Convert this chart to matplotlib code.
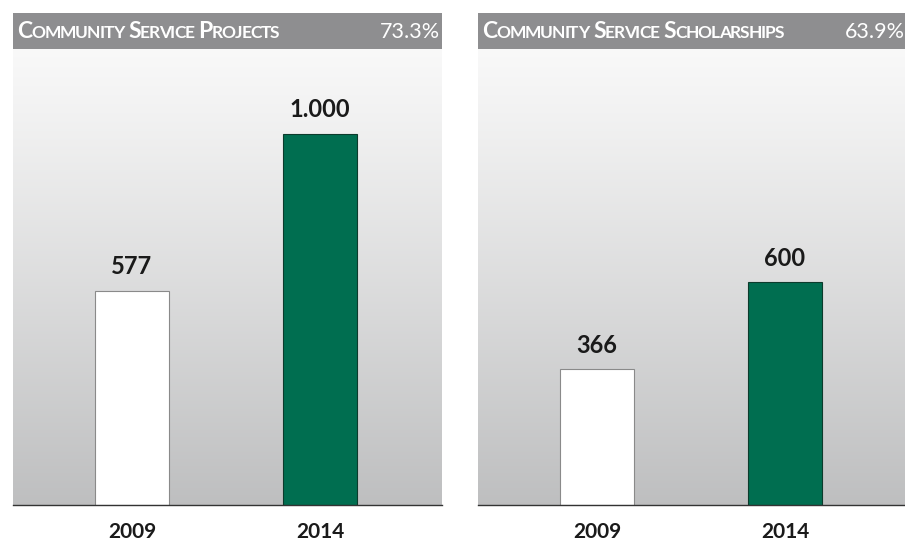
import numpy as np
import matplotlib.pyplot as plt
from matplotlib.patches import Rectangle

plt.rcParams['font.family'] = ['Lato', 'DejaVu Sans']

years = ['2009', '2014']
titles = ['Community Service Projects', 'Community Service Scholarships']
growth = ['73.3%', '63.9%']
projects = [577, 1000]
scholarships = [366, 600]
value_labels = [['577', '1.000'], ['366', '600']]

bar_colors = ['#ffffff', '#006e50']
edge_colors = ['#8a8a8a', '#0c3b2c']
header_color = '#8e8e90'

W, H = 905, 543
fig = plt.figure(figsize=(W / 100, H / 100), dpi=100)

# panel placement in pixels: left edge, width, plot bottom, plot top, header top
panel_x = [13, 478]
panel_w = 429
plot_bottom, plot_top, header_top = 505, 49, 13

# vertical gradient for the plot background
grad = np.linspace(0, 1, 256).reshape(-1, 1)
top_rgb = np.array([0.975, 0.975, 0.975])
bot_rgb = np.array([0.745, 0.748, 0.752])
grad_img = top_rgb + (bot_rgb - top_rgb) * grad[:, :, None] ** 1.1
grad_img = grad_img.reshape(256, 1, 3)


def small_caps(fig, x, y, text, big=16.5, small=12.5, color='white'):
    """Draw text in faux small caps, starting at figure pixel x, baseline y."""
    r = fig.canvas.get_renderer()
    cur = x
    for wi, word in enumerate(text.split(' ')):
        if wi:
            cur += 5
        for ci, ch in enumerate(word):
            size = big if ci == 0 else small
            t = fig.text(cur / W, 1 - y / H, ch.upper(), fontsize=size,
                         color=color, fontweight='bold', va='baseline',
                         ha='left')
            bb = t.get_window_extent(renderer=r)
            cur += bb.width - 1.0


for i, vals in enumerate([projects, scholarships]):
    left = panel_x[i] / W
    bottom = 1 - plot_bottom / H
    ax = fig.add_axes([left, bottom, panel_w / W, (plot_bottom - plot_top) / H])
    ax.imshow(grad_img, extent=[0, 1, 0, 1], transform=ax.transAxes,
              aspect='auto', zorder=0)

    x = np.arange(len(years))
    ax.bar(x, vals, width=0.394, color=bar_colors, edgecolor=edge_colors,
           linewidth=0.8, zorder=2)
    for xi, v, lab in zip(x, vals, value_labels[i]):
        ax.annotate(lab, (xi, v), xytext=(0, 9), textcoords='offset points',
                    ha='center', va='bottom', fontsize=17, fontweight='bold',
                    color='#1a1a1a')

    ax.set_xlim(-0.633, 1.649)
    ax.set_ylim(0, 1229)
    ax.set_xticks(x)
    ax.set_xticklabels(years, fontsize=15, fontweight='bold', color='#1a1a1a')
    ax.tick_params(axis='x', length=0, pad=12)
    ax.set_yticks([])
    for s in ['top', 'left', 'right']:
        ax.spines[s].set_visible(False)
    ax.spines['bottom'].set_color('#333333')
    ax.spines['bottom'].set_linewidth(1.0)
    ax.spines['bottom'].set_zorder(3)

    # header band
    fig.patches.append(Rectangle((left, 1 - plot_top / H), panel_w / W,
                                 (plot_top - header_top) / H,
                                 transform=fig.transFigure,
                                 facecolor=header_color, edgecolor='none'))
    small_caps(fig, panel_x[i] + 4, 38, titles[i])
    fig.text((panel_x[i] + panel_w - 2) / W, 1 - 38 / H, growth[i],
             fontsize=15.5, color='white', ha='right', va='baseline')

fig.savefig('out.png', dpi=100)
